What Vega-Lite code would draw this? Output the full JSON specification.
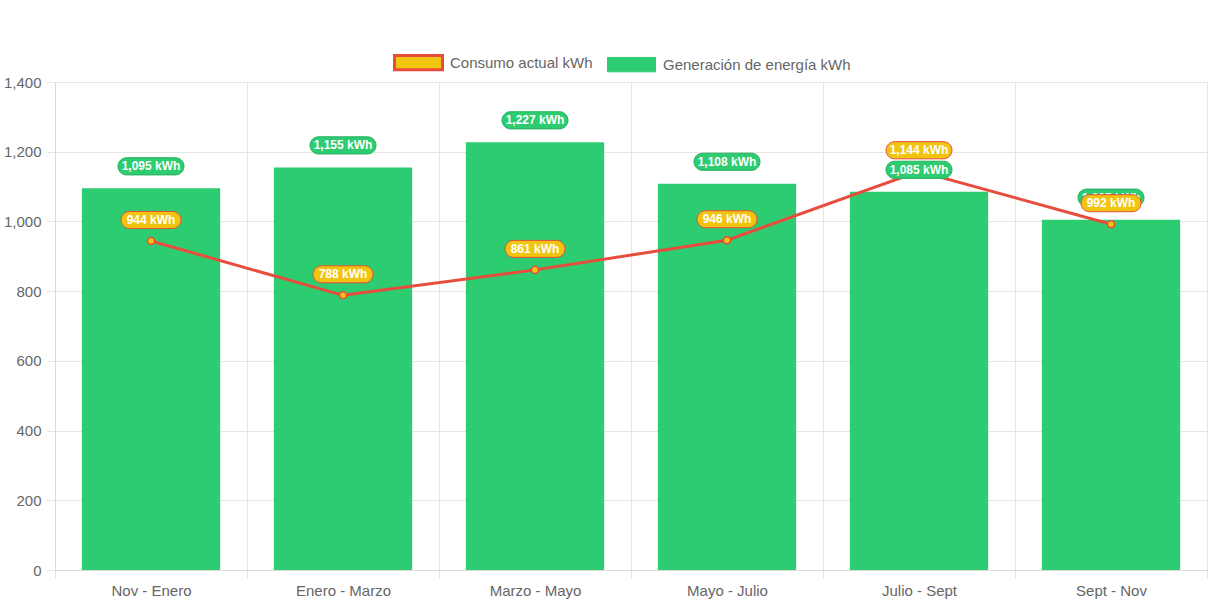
{
  "$schema": "https://vega.github.io/schema/vega-lite/v6.json",
  "width": 1152,
  "height": 488,
  "autosize": {"type": "none"},
  "padding": {"left": 55, "top": 82, "right": 6, "bottom": 36},
  "background": "white",
  "config": {
    "font": "Liberation Sans",
    "view": {"stroke": "#e5e5e5"},
    "legend": {"layout": {"top": {"anchor": "middle"}}}
  },
  "data": {
    "values": [
      {"cat": "Nov - Enero", "gen": 1095, "cons": 944, "genLabel": "1,095 kWh", "consLabel": "944 kWh"},
      {"cat": "Enero - Marzo", "gen": 1155, "cons": 788, "genLabel": "1,155 kWh", "consLabel": "788 kWh"},
      {"cat": "Marzo - Mayo", "gen": 1227, "cons": 861, "genLabel": "1,227 kWh", "consLabel": "861 kWh"},
      {"cat": "Mayo - Julio", "gen": 1108, "cons": 946, "genLabel": "1,108 kWh", "consLabel": "946 kWh"},
      {"cat": "Julio - Sept", "gen": 1085, "cons": 1144, "genLabel": "1,085 kWh", "consLabel": "1,144 kWh"},
      {"cat": "Sept - Nov", "gen": 1005, "cons": 992, "genLabel": "1,005 kWh", "consLabel": "992 kWh"}
    ]
  },
  "encoding": {
    "x": {
      "field": "cat", "type": "nominal", "sort": null,
      "scale": {"paddingInner": 0, "paddingOuter": 0},
      "axis": {
        "title": null, "labelAngle": 0, "tickBand": "extent", "grid": true,
        "gridColor": "#e5e5e5", "tickColor": "#e5e5e5", "domainColor": "#d9d9d9",
        "tickSize": 8, "labelPadding": 5, "labelFontSize": 15, "labelColor": "#666666",
        "labelFont": "Liberation Sans"
      }
    }
  },
  "layer": [
    {
      "mark": {"type": "bar", "width": {"band": 0.72}},
      "encoding": {
        "y": {
          "field": "gen", "type": "quantitative",
          "scale": {"domain": [0, 1400], "nice": false},
          "axis": {
            "title": null, "values": [0, 200, 400, 600, 800, 1000, 1200, 1400], "format": ",d",
            "gridColor": "#e5e5e5", "tickColor": "#e5e5e5", "domainColor": "#d9d9d9",
            "tickSize": 8, "labelPadding": 6, "labelFontSize": 15, "labelColor": "#666666",
            "labelFont": "Liberation Sans"
          }
        },
        "color": {
          "datum": "Generación de energía kWh",
          "scale": {"domain": ["Consumo actual kWh", "Generación de energía kWh"], "range": ["#f1c40f", "#2ecc71"]},
          "legend": {
            "title": null, "orient": "top", "direction": "horizontal", "offset": 6,
            "symbolType": "M-1,-0.3L1,-0.3L1,0.3L-1,0.3Z", "symbolSize": 2304,
            "symbolOpacity": 1, "labelLimit": 400,
            "labelFontSize": 15, "labelColor": "#666666", "labelFont": "Liberation Sans",
            "labelOffset": 24, "columnPadding": 12,
            "encode": {
              "symbols": {
                "update": {
                  "stroke": {"signal": "datum.value === 'Consumo actual kWh' ? '#e74c3c' : '#2ecc71'"},
                  "strokeWidth": {"signal": "datum.value === 'Consumo actual kWh' ? 3 : 1"}
                }
              }
            }
          }
        }
      }
    },
    {
      "mark": {"type": "line", "color": "#e74c3c", "strokeWidth": 3},
      "encoding": {"y": {"field": "cons", "type": "quantitative"}}
    },
    {
      "mark": {"type": "point", "filled": true, "size": 50, "stroke": "#e74c3c", "strokeWidth": 1.5, "opacity": 1},
      "encoding": {
        "y": {"field": "cons", "type": "quantitative"},
        "color": {"datum": "Consumo actual kWh"}
      }
    },
    {
      "mark": {"type": "point", "filled": true, "opacity": 1, "yOffset": -22, "fill": "#2ecc71", "stroke": "#27ae60", "strokeWidth": 1},
      "encoding": {
        "y": {"field": "gen", "type": "quantitative"},
        "shape": {"value": "M-0.74,-0.26L0.74,-0.26A0.26,0.26 0 0 1 0.74,0.26L-0.74,0.26A0.26,0.26 0 0 1 -0.74,-0.26Z"},
        "size": {"value": 4356}
      }
    },
    {
      "mark": {"type": "text", "yOffset": -22, "color": "white", "fontWeight": "bold", "fontSize": 12, "font": "Liberation Sans", "baseline": "middle", "align": "center"},
      "encoding": {
        "y": {"field": "gen", "type": "quantitative"},
        "text": {"field": "genLabel"}
      }
    },
    {
      "mark": {"type": "point", "filled": true, "opacity": 1, "yOffset": -21, "fill": "#f1c40f", "stroke": "#e74c3c", "strokeWidth": 1},
      "encoding": {
        "y": {"field": "cons", "type": "quantitative"},
        "shape": {
          "condition": {"test": "length(datum.consLabel) > 7", "value": "M-0.74,-0.26L0.74,-0.26A0.26,0.26 0 0 1 0.74,0.26L-0.74,0.26A0.26,0.26 0 0 1 -0.74,-0.26Z"},
          "value": "M-0.717,-0.283L0.717,-0.283A0.283,0.283 0 0 1 0.717,0.283L-0.717,0.283A0.283,0.283 0 0 1 -0.717,-0.283Z"
        },
        "size": {"condition": {"test": "length(datum.consLabel) > 7", "value": 4356}, "value": 3600}
      }
    },
    {
      "mark": {"type": "text", "yOffset": -21, "color": "white", "fontWeight": "bold", "fontSize": 12, "font": "Liberation Sans", "baseline": "middle", "align": "center"},
      "encoding": {
        "y": {"field": "cons", "type": "quantitative"},
        "text": {"field": "consLabel"}
      }
    }
  ]
}
